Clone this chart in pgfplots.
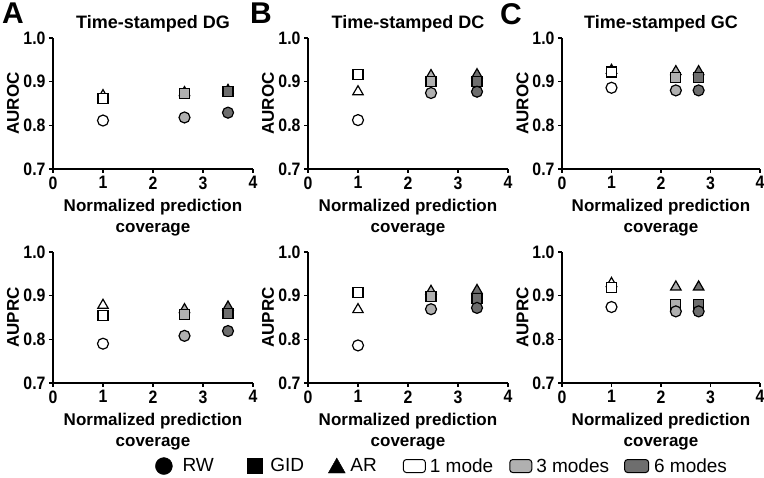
\documentclass[border=0pt]{standalone}
\usepackage{fontspec}
\setmainfont{Liberation Sans}
\newfontfamily\tickfont{Liberation Sans}[FakeStretch=0.88]
\usepackage{pgfplots}
\pgfplotsset{compat=1.18}

\definecolor{mthree}{gray}{0.69}
\definecolor{msix}{gray}{0.43}

\pgfplotsset{
  panel/.style={
    scale only axis, width=200pt, height=131pt,
    xmin=0, xmax=4, ymin=0.7, ymax=1.0,
    xtick={0,1,2,3,4}, ytick={0.7,0.8,0.9,1.0},
    axis lines*=left,
    axis line style={line width=1.3pt, black},
    tick style={line width=1.3pt, black},
    tick align=outside, major tick length=4pt,
    y tick label style={/pgf/number format/.cd, fixed, fixed zerofill, precision=1, /tikz/.cd},
    /pgf/number format/assume math mode=true,
    tick label style={font=\fontsize{18}{18}\selectfont\tickfont\bfseries},
    label style={font=\fontsize{17}{21}\selectfont\bfseries},
    xlabel={Normalized prediction\\coverage},
    xlabel style={align=center, at={(axis description cs:0.5,-0.374)}, anchor=center},
    ylabel style={at={(axis description cs:-0.2,0.5)}, anchor=center},
    title style={font=\fontsize{18}{20}\selectfont\bfseries, at={(axis description cs:0.5,1.065)}, anchor=center},
    clip=false,
    scatter/classes={a={fill=white}, b={fill=mthree}, c={fill=msix}},
  },
  pts/.style={only marks, scatter, scatter src=explicit symbolic, black, line width=1.2pt},
  ar/.style={pts, mark=triangle*, mark size=6pt},
  gid/.style={pts, mark=square*, mark size=5pt},
  rw/.style={pts, mark=*, mark size=5.5pt},
}
\tikzset{letter/.style={font=\fontsize{30}{30}\selectfont\bfseries, anchor=north west, inner sep=0pt}}

\begin{document}
\begin{tikzpicture}
\useasboundingbox (0,0) rectangle (764pt,478pt);

% ---- A: DG, AUROC
\begin{axis}[panel, at={(53pt,309pt)}, anchor=south west,
  title={Time-stamped DG}, ylabel={AUROC}]
\addplot[ar]  coordinates {(1,0.868) [a] (2.63,0.875) [b] (3.5,0.880) [c]};
\addplot[gid] coordinates {(1,0.861) [a] (2.63,0.873) [b] (3.5,0.877) [c]};
\addplot[rw]  coordinates {(1,0.811) [a] (2.63,0.818) [b] (3.5,0.829) [c]};
\node[letter] at (axis description cs:-0.255,1.267) {A};
\end{axis}

% ---- B: DC, AUROC
\begin{axis}[panel, at={(308pt,309pt)}, anchor=south west,
  title={Time-stamped DC}, ylabel={AUROC}]
\addplot[ar]  coordinates {(1,0.877) [a] (2.46,0.914) [b] (3.38,0.916) [c]};
\addplot[gid] coordinates {(1,0.916) [a] (2.46,0.900) [b] (3.38,0.900) [c]};
\addplot[rw]  coordinates {(1,0.812) [a] (2.46,0.874) [b] (3.38,0.877) [c]};
\node[letter] at (axis description cs:-0.29,1.267) {B};
\end{axis}

% ---- C: GC, AUROC
\begin{axis}[panel, width=198pt, at={(562pt,309pt)}, anchor=south west,
  title={Time-stamped GC}, ylabel={AUROC}]
\addplot[ar]  coordinates {(1,0.926) [a] (2.30,0.923) [b] (2.76,0.923) [c]};
\addplot[gid] coordinates {(1,0.922) [a] (2.30,0.909) [b] (2.76,0.909) [c]};
\addplot[rw]  coordinates {(1,0.886) [a] (2.30,0.880) [b] (2.76,0.880) [c]};
\node[letter] at (axis description cs:-0.313,1.267) {C};
\end{axis}

% ---- A: DG, AUPRC
\begin{axis}[panel, at={(53pt,95pt)}, anchor=south west, ylabel={AUPRC}]
\addplot[ar]  coordinates {(1,0.878) [a] (2.63,0.868) [b] (3.5,0.874) [c]};
\addplot[gid] coordinates {(1,0.854) [a] (2.63,0.856) [b] (3.5,0.860) [c]};
\addplot[rw]  coordinates {(1,0.790) [a] (2.63,0.808) [b] (3.5,0.819) [c]};
\end{axis}

% ---- B: DC, AUPRC (carries the legend)
\begin{axis}[panel, at={(308pt,95pt)}, anchor=south west, ylabel={AUPRC},
  legend columns=6,
  legend style={draw=none, fill=none, inner sep=0pt,
    at={(axis description cs:-0.765,-0.634)}, anchor=west,
    font=\fontsize{19}{22}\selectfont,
    nodes={inner sep=0pt},
    /tikz/column 1/.style={column sep=10pt},
    /tikz/column 2/.style={column sep=33pt},
    /tikz/column 3/.style={column sep=8pt},
    /tikz/column 4/.style={column sep=24pt},
    /tikz/column 5/.style={column sep=5pt},
    /tikz/column 6/.style={column sep=26pt},
    /tikz/column 7/.style={column sep=4pt},
    /tikz/column 8/.style={column sep=16pt},
    /tikz/column 9/.style={column sep=4pt},
    /tikz/column 10/.style={column sep=15pt},
    /tikz/column 11/.style={column sep=5pt}},
  legend cell align=left]
\addlegendimage{legend image code/.code={\fill[black] (8.5pt,0pt) circle (8.5pt);}}
\addlegendentry{RW}
\addlegendimage{legend image code/.code={\fill[black] (0pt,-7.5pt) rectangle (15pt,7.5pt);}}
\addlegendentry{GID}
\addlegendimage{legend image code/.code={\fill[black] (0pt,-7pt) -- (17pt,-7pt) -- (8.5pt,8pt) -- cycle;}}
\addlegendentry{AR}
\addlegendimage{legend image code/.code={\draw[black, line width=1pt, fill=white, rounded corners=3pt] (0pt,-6.5pt) rectangle (22pt,6.5pt);}}
\addlegendentry{1 mode}
\addlegendimage{legend image code/.code={\draw[black, line width=1pt, fill=mthree, rounded corners=3pt] (0pt,-6.5pt) rectangle (22pt,6.5pt);}}
\addlegendentry{3 modes}
\addlegendimage{legend image code/.code={\draw[black, line width=1pt, fill=msix, rounded corners=3pt] (0pt,-6.5pt) rectangle (24pt,6.5pt);}}
\addlegendentry{6 modes}
\addplot[ar, forget plot]  coordinates {(1,0.868) [a] (2.46,0.910) [b] (3.38,0.912) [c]};
\addplot[gid, forget plot] coordinates {(1,0.907) [a] (2.46,0.898) [b] (3.38,0.893) [c]};
\addplot[rw, forget plot]  coordinates {(1,0.786) [a] (2.46,0.869) [b] (3.38,0.872) [c]};
\end{axis}

% ---- C: GC, AUPRC
\begin{axis}[panel, width=198pt, at={(562pt,95pt)}, anchor=south west, ylabel={AUPRC}]
\addplot[ar]  coordinates {(1,0.928) [a] (2.30,0.920) [b] (2.76,0.920) [c]};
\addplot[gid] coordinates {(1,0.918) [a] (2.30,0.879) [b] (2.76,0.879) [c]};
\addplot[rw]  coordinates {(1,0.874) [a] (2.30,0.864) [b] (2.76,0.864) [c]};
\end{axis}
\end{tikzpicture}
\end{document}
